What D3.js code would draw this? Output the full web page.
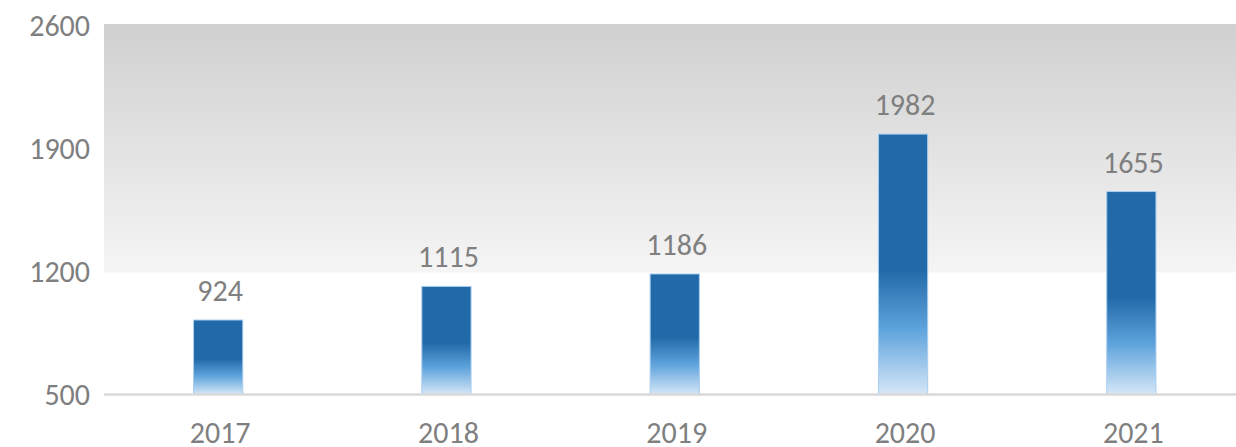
<!DOCTYPE html>
<html>
<head>
<meta charset="utf-8">
<script src="https://cdn.jsdelivr.net/npm/d3@7"></script>
<style>
  body { margin: 0; background: #fff; }
  svg { display: block; }
  .axis text { font-family: Calibri, Carlito, "Open Sans", sans-serif; font-size: 30px; fill: #7f7f7f; }
  .label { font-family: Calibri, Carlito, "Open Sans", sans-serif; font-size: 30px; fill: #7f7f7f; }
</style>
</head>
<body>
<svg id="chart"></svg>
<script>
// data
const years = ['2017', '2018', '2019', '2020', '2021'];
const counts = [924, 1115, 1186, 1982, 1655];
const yTicks = [500, 1200, 1900, 2600];
const shadedBand = [1200, 2600];

const W = 1236, H = 447;
const margin = {top: 25.5, left: 104, bottom: 52.5};

const svg = d3.select('#chart').attr('width', W).attr('height', H);
const defs = svg.append('defs');

// background gradient on upper band
const bg = defs.append('linearGradient').attr('id', 'bandGrad')
  .attr('x1', 0).attr('y1', 0).attr('x2', 0).attr('y2', 1);
bg.append('stop').attr('offset', 0).attr('stop-color', '#d0d0d0');
bg.append('stop').attr('offset', 1).attr('stop-color', '#f5f5f5');

// bar gradient
const bg2 = defs.append('linearGradient').attr('id', 'barGrad')
  .attr('x1', 0).attr('y1', 0).attr('x2', 0).attr('y2', 1);
bg2.append('stop').attr('offset', 0).attr('stop-color', '#2169a8');
bg2.append('stop').attr('offset', 0.52).attr('stop-color', '#2169a8');
bg2.append('stop').attr('offset', 0.75).attr('stop-color', '#5ea3dc');
bg2.append('stop').attr('offset', 1).attr('stop-color', '#d6e7f7');

const x = d3.scaleBand().domain(years).range([margin.left, margin.left + 5 * 228.3]).paddingInner(0.78).paddingOuter(0.39);
const y = d3.scaleLinear().domain([yTicks[0], yTicks[yTicks.length - 1]]).range([H - margin.bottom, margin.top]);

svg.append('rect')
  .attr('x', margin.left).attr('y', y(shadedBand[1]) - 1.5)
  .attr('width', W - margin.left)
  .attr('height', y(shadedBand[0]) - y(shadedBand[1]) + 2.5)
  .attr('fill', 'url(#bandGrad)');

// bars
svg.selectAll('.bar').data(counts).join('rect')
  .attr('class', 'bar')
  .attr('x', (d, i) => x(years[i]) + 0.5)
  .attr('y', d => y(d))
  .attr('width', x.bandwidth() - 1)
  .attr('height', d => y(yTicks[0]) - y(d))
  .attr('fill', 'url(#barGrad)')
  .attr('stroke', '#a9cdef')
  .attr('stroke-width', 1);

// baseline
svg.append('line')
  .attr('x1', margin.left).attr('x2', W)
  .attr('y1', y(yTicks[0])).attr('y2', y(yTicks[0]))
  .attr('stroke', '#d9d9d9').attr('stroke-width', 2.5);

// value labels
svg.selectAll('.label').data(counts).join('text')
  .attr('class', 'label')
  .attr('x', (d, i) => x(years[i]) + x.bandwidth() / 2 + 2)
  .attr('y', d => y(d) - 19)
  .attr('text-anchor', 'middle')
  .text(d => d);

// axes
const yAxis = svg.append('g').attr('class', 'axis')
  .attr('transform', `translate(${margin.left - 14},0)`)
  .call(d3.axisLeft(y).tickValues(yTicks).tickFormat(d3.format('d')).tickSize(0).tickPadding(0));
yAxis.select('.domain').remove();
yAxis.selectAll('text').attr('dy', '0.33em');

const xAxis = svg.append('g').attr('class', 'axis')
  .attr('transform', `translate(2,${y(yTicks[0])})`)
  .call(d3.axisBottom(x).tickSize(0).tickPadding(27));
xAxis.select('.domain').remove();
</script>
</body>
</html>
